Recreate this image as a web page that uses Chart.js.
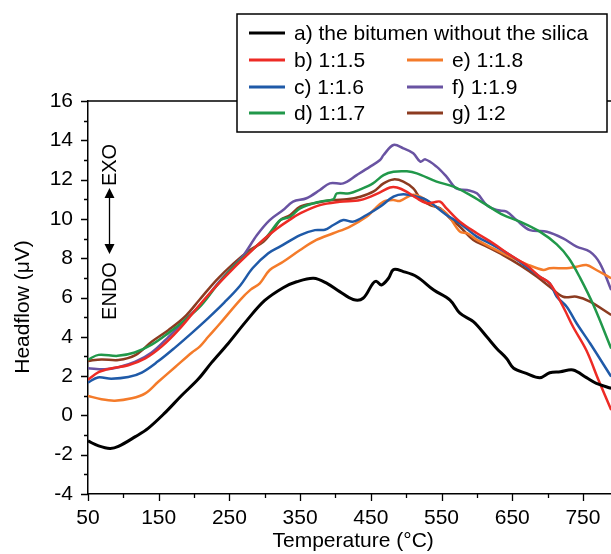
<!DOCTYPE html>
<html>
<head>
<meta charset="utf-8">
<script src="https://cdn.jsdelivr.net/npm/chart.js@4"></script>
<style>
  html, body { margin: 0; padding: 0; background: #fff; overflow: hidden; }
  #wrap { width: 611px; height: 554px; overflow: hidden; }
</style>
</head>
<body>
<div id="wrap"><canvas id="chart" width="640" height="554"></canvas></div>
<script>
const FONT = "'Liberation Sans', Arial, sans-serif";
const TEXT_SIZE = 21;

// DSC curves: [temperature °C, headflow µV]
const bitumenA = [[50,-1.3],[65,-1.55],[81,-1.68],[93,-1.58],[117,-1.08],[135,-0.66],[158,0.1],[182,1.0],[206,1.85],[225,2.7],[248,3.65],[275,4.85],[300,5.85],[326,6.5],[345,6.8],[369,6.98],[388,6.72],[406,6.3],[425,5.9],[439,5.96],[453,6.72],[458,6.82],[465,6.64],[475,6.98],[482,7.42],[496,7.32],[515,7.06],[539,6.38],[562,5.87],[576,5.2],[595,4.77],[614,4.0],[628,3.41],[642,2.9],[652,2.4],[670,2.14],[689,1.92],[703,2.17],[718,2.22],[736,2.31],[755,1.92],[769,1.63],[790,1.38]];
const ratio15 = [[50,1.82],[65,2.2],[84,2.4],[107,2.55],[131,2.9],[154,3.5],[178,4.35],[205,5.5],[232,6.6],[256,7.5],[279,8.3],[300,9.0],[317,9.5],[335,9.95],[350,10.28],[378,10.7],[406,10.87],[435,10.96],[463,11.35],[477,11.6],[487,11.6],[501,11.38],[515,11.05],[529,10.8],[540,10.85],[548,10.88],[557,10.54],[576,9.86],[600,9.27],[623,8.76],[647,8.16],[670,7.65],[689,7.06],[703,6.72],[722,5.53],[736,4.51],[755,3.3],[772,1.8],[790,0.27]];
const ratio16 = [[50,1.67],[64,1.93],[83,1.87],[107,1.95],[126,2.18],[149,2.75],[173,3.45],[197,4.2],[220,4.95],[243,5.75],[265,6.6],[283,7.5],[305,8.25],[322,8.6],[350,9.18],[371,9.43],[385,9.45],[397,9.69],[411,9.94],[425,9.86],[444,10.2],[463,10.62],[482,11.13],[496,11.25],[515,11.13],[529,10.96],[557,10.2],[576,9.77],[600,9.1],[623,8.67],[647,8.16],[670,7.57],[689,7.06],[703,6.72],[713,6.04],[727,5.53],[741,4.69],[760,3.67],[790,1.97]];
const ratio17 = [[50,2.84],[65,3.08],[92,3.03],[116,3.2],[140,3.6],[164,4.2],[187,4.85],[210,5.6],[232,6.6],[256,7.57],[279,8.33],[303,9.1],[322,9.94],[336,10.1],[350,10.54],[378,10.88],[397,11.0],[402,11.3],[420,11.3],[435,11.5],[453,11.81],[468,12.23],[482,12.4],[501,12.42],[515,12.32],[543,11.9],[567,11.64],[590,11.22],[614,10.7],[637,10.2],[661,9.86],[689,9.35],[713,8.7],[730,8.0],[746,7.0],[765,5.6],[790,3.4]];
const ratio18 = [[50,0.99],[69,0.82],[88,0.75],[112,0.87],[131,1.12],[149,1.7],[173,2.45],[197,3.2],[208,3.5],[220,4.0],[237,4.69],[265,5.87],[280,6.4],[293,6.72],[307,7.4],[326,7.82],[350,8.42],[373,8.93],[397,9.27],[420,9.6],[444,10.11],[454,10.45],[468,10.88],[482,10.96],[491,10.91],[508,11.22],[520,11.13],[538,10.7],[557,10.28],[576,9.35],[586,9.27],[600,8.93],[623,8.5],[651,8.0],[670,7.7],[694,7.4],[703,7.49],[727,7.49],[741,7.57],[755,7.65],[769,7.4],[790,6.98]];
const ratio19 = [[50,2.4],[74,2.35],[93,2.45],[117,2.73],[140,3.2],[164,4.0],[187,4.85],[210,5.65],[232,6.65],[256,7.6],[270,8.15],[289,9.18],[307,9.94],[326,10.45],[340,10.88],[359,11.05],[378,11.47],[392,11.81],[411,11.81],[430,12.23],[449,12.66],[463,13.0],[468,13.25],[482,13.76],[496,13.59],[510,13.34],[520,12.91],[527,13.03],[543,12.66],[557,12.15],[571,11.55],[586,11.47],[600,11.3],[614,10.7],[628,10.45],[642,10.37],[656,9.94],[675,9.43],[699,9.35],[722,9.01],[741,8.59],[760,8.33],[774,7.74],[790,6.38]];
const ratio20 = [[50,2.77],[69,2.85],[93,2.82],[117,3.07],[140,3.75],[164,4.35],[187,5.02],[208,5.9],[232,6.9],[256,7.74],[279,8.42],[298,8.84],[312,9.43],[322,9.94],[336,10.2],[350,10.62],[369,10.79],[397,10.96],[416,11.0],[435,11.13],[454,11.4],[468,11.81],[482,12.01],[496,11.9],[510,11.55],[520,11.05],[534,10.7],[548,10.54],[562,10.03],[576,9.6],[595,8.93],[614,8.59],[637,8.16],[661,7.65],[685,7.06],[703,6.55],[722,6.04],[741,6.04],[760,5.79],[790,5.11]];

const seriesLabels = ['a) the bitumen without the silica', 'b) 1:1.5', 'c) 1:1.6', 'd) 1:1.7', 'e) 1:1.8', 'f) 1:1.9', 'g) 1:2'];
const seriesColors = ['#000000', '#ed2b25', '#1f5aa8', '#21984a', '#f47b2a', '#6953a2', '#8c3b20'];
const seriesData = [bitumenA, ratio15, ratio16, ratio17, ratio18, ratio19, ratio20];

const xMin = 50, xMax = 800, xStep = 50;
const yMin = -4, yMax = 16, yStep = 1;

const ctx = document.getElementById('chart').getContext('2d');

// axis ticks (long on labelled values), frame and y title
const frame = {
  id: 'frame',
  afterDraw(chart) {
    const { ctx, chartArea: a, scales: { x, y } } = chart;
    ctx.save();
    ctx.strokeStyle = '#000';
    ctx.lineWidth = 1.3;
    ctx.beginPath();
    x.ticks.forEach(t => {
      const px = Math.round(x.getPixelForValue(t.value)) + 0.5;
      const len = (t.value - 50) % 100 === 0 ? 7 : 4;
      ctx.moveTo(px, a.bottom);
      ctx.lineTo(px, a.bottom + len);
    });
    y.ticks.forEach(t => {
      const py = Math.round(y.getPixelForValue(t.value)) + 0.5;
      const len = t.value % 2 === 0 ? 7 : 4;
      ctx.moveTo(a.left, py);
      ctx.lineTo(a.left - len, py);
    });
    ctx.moveTo(a.left, a.top);
    ctx.lineTo(a.right, a.top);
    ctx.lineTo(a.right, a.bottom);
    ctx.stroke();

    ctx.fillStyle = '#000';
    ctx.font = TEXT_SIZE + 'px ' + FONT;
    ctx.textAlign = 'center';
    ctx.textBaseline = 'middle';
    ctx.translate(23, 307);
    ctx.rotate(-Math.PI / 2);
    ctx.fillText('Headflow (μV)', 0, 0);
    ctx.restore();
  }
};

// EXO / ENDO marker with double arrow
const exoEndo = {
  id: 'exoEndo',
  afterDraw(chart) {
    const { ctx } = chart;
    const ax = 109.5;
    ctx.save();
    ctx.fillStyle = '#000';
    ctx.strokeStyle = '#000';
    ctx.lineWidth = 1.3;
    ctx.beginPath();
    ctx.moveTo(ax, 196);
    ctx.lineTo(ax, 245);
    ctx.stroke();
    ctx.beginPath();
    ctx.moveTo(ax, 188);
    ctx.lineTo(ax - 5, 198);
    ctx.lineTo(ax + 5, 198);
    ctx.closePath();
    ctx.moveTo(ax, 254);
    ctx.lineTo(ax - 5, 244);
    ctx.lineTo(ax + 5, 244);
    ctx.closePath();
    ctx.fill();

    ctx.font = '20px ' + FONT;
    ctx.textAlign = 'center';
    ctx.textBaseline = 'middle';
    ctx.translate(ax + 1, 165);
    ctx.rotate(-Math.PI / 2);
    ctx.fillText('EXO', 0, 0);
    ctx.rotate(Math.PI / 2);
    ctx.translate(0, 126);
    ctx.rotate(-Math.PI / 2);
    ctx.fillText('ENDO', 0, 0);
    ctx.restore();
  }
};

// boxed two-column legend over the top frame
const boxLegend = {
  id: 'boxLegend',
  afterDraw(chart) {
    const { ctx } = chart;
    const sets = chart.data.datasets;
    const box = { x: 237, y: 14, w: 370, h: 118 };
    const rows = [33, 60, 87, 113];
    const cols = [249, 407];
    const slots = [[0, 0], [0, 1], [0, 2], [0, 3], [1, 1], [1, 2], [1, 3]];
    ctx.save();
    ctx.fillStyle = '#fff';
    ctx.fillRect(box.x, box.y, box.w, box.h);
    ctx.strokeStyle = '#000';
    ctx.lineWidth = 1.5;
    ctx.strokeRect(box.x, box.y, box.w, box.h);
    ctx.font = TEXT_SIZE + 'px ' + FONT;
    ctx.textBaseline = 'middle';
    ctx.textAlign = 'left';
    sets.forEach((ds, i) => {
      const [c, r] = slots[i];
      const lx = cols[c], ly = rows[r];
      ctx.strokeStyle = ds.borderColor;
      ctx.lineWidth = 3;
      ctx.beginPath();
      ctx.moveTo(lx, ly);
      ctx.lineTo(lx + 36, ly);
      ctx.stroke();
      ctx.fillStyle = '#000';
      ctx.fillText(ds.label, lx + 45, ly + 1);
    });
    ctx.restore();
  }
};

new Chart(ctx, {
  type: 'line',
  data: {
    datasets: seriesData.map((pts, i) => ({
      label: seriesLabels[i],
      data: pts.map(([x, y]) => ({ x, y })),
      borderColor: seriesColors[i],
      backgroundColor: seriesColors[i],
      borderWidth: i === 0 ? 3 : 2.5,
      pointRadius: 0,
      tension: 0.35,
      fill: false,
    })),
  },
  options: {
    responsive: false,
    animation: false,
    devicePixelRatio: 1,
    layout: { padding: { top: 101, right: 21.7, left: 0, bottom: 0 } },
    plugins: {
      legend: { display: false },
      tooltip: { enabled: false },
    },
    scales: {
      x: {
        type: 'linear',
        min: xMin,
        max: xMax,
        afterFit: (s) => { s.height = 60; },
        grid: { display: false, drawTicks: false },
        border: { display: true, color: '#000', width: 1.5 },
        ticks: {
          stepSize: xStep,
          autoSkip: false,
          maxRotation: 0,
          color: '#000',
          padding: 12,
          font: { family: FONT, size: TEXT_SIZE },
          callback: (v) => ((v - 50) % 100 === 0 && v < 800 ? String(v) : ''),
        },
        title: {
          display: true,
          text: 'Temperature (°C)',
          color: '#000',
          font: { family: FONT, size: TEXT_SIZE },
          padding: { top: 0, bottom: 0 },
        },
      },
      y: {
        type: 'linear',
        min: yMin,
        max: yMax,
        afterFit: (s) => { s.width = 88; },
        grid: { display: false, drawTicks: false },
        border: { display: true, color: '#000', width: 1.5 },
        ticks: {
          stepSize: yStep,
          autoSkip: false,
          color: '#000',
          padding: 15,
          font: { family: FONT, size: TEXT_SIZE },
          callback: (v) => (v % 2 === 0 ? String(v) : ''),
        },
      },
    },
  },
  plugins: [frame, exoEndo, boxLegend],
});
</script>
</body>
</html>
